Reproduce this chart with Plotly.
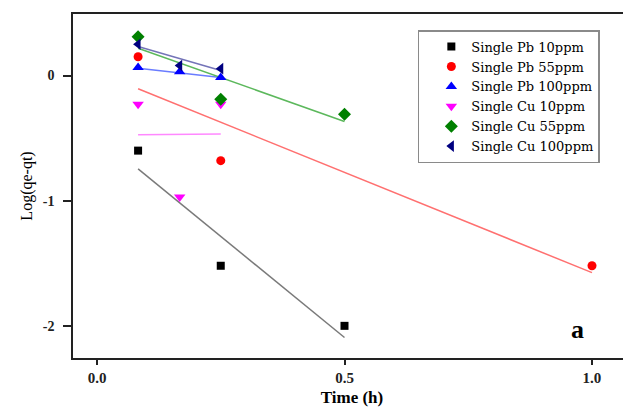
import plotly.graph_objects as go

# ---- data ----
time_pb10 = [0.083, 0.25, 0.5]
pb10 = [-0.60, -1.52, -2.00]
time_pb55 = [0.083, 0.25, 1.0]
pb55 = [0.15, -0.68, -1.52]
time_pb100 = [0.083, 0.167, 0.25]
pb100 = [0.065, 0.03, -0.015]
time_cu10 = [0.083, 0.167, 0.25]
cu10 = [-0.23, -0.97, -0.23]
time_cu55 = [0.083, 0.25, 0.5]
cu55 = [0.31, -0.19, -0.31]
time_cu100 = [0.083, 0.167, 0.25]
cu100 = [0.25, 0.08, 0.055]

# linear fit lines (end points as drawn)
fit_pb10_x = [0.083, 0.5]
fit_pb10_y = [-0.746, -2.093]
fit_pb55_x = [0.083, 1.0]
fit_pb55_y = [-0.106, -1.575]
fit_pb100_x = [0.083, 0.25]
fit_pb100_y = [0.059, -0.016]
fit_cu10_x = [0.083, 0.25]
fit_cu10_y = [-0.473, -0.467]
fit_cu55_x = [0.083, 0.5]
fit_cu55_y = [0.218, -0.367]
fit_cu100_x = [0.083, 0.25]
fit_cu100_y = [0.232, 0.04]

series_names = ["Single Pb 10ppm", "Single Pb 55ppm", "Single Pb 100ppm",
                "Single Cu 10ppm", "Single Cu 55ppm", "Single Cu 100ppm"]

x_ticks = [0.0, 0.5, 1.0]
y_ticks = [-2, -1, 0]
y_tick_text = ["-2", "-1", "0"]

SERIF = "Liberation Serif, Times New Roman, serif"
LEG_FONT = "DejaVu Serif, serif"

fig = go.Figure()

fits = [
    (fit_pb10_x, fit_pb10_y, "#7a7a7a"),
    (fit_pb55_x, fit_pb55_y, "#ff7070"),
    (fit_pb100_x, fit_pb100_y, "#6a7cff"),
    (fit_cu10_x, fit_cu10_y, "#ff88ff"),
    (fit_cu55_x, fit_cu55_y, "#5cb85c"),
    (fit_cu100_x, fit_cu100_y, "#7474b8"),
]
for fx, fy, c in fits:
    fig.add_trace(go.Scatter(x=fx, y=fy, mode="lines", showlegend=False,
                             hoverinfo="skip", line=dict(color=c, width=1.5)))

pts = [
    (time_pb10, pb10, "square", "#000000", 8),
    (time_pb55, pb55, "circle", "#ff0000", 9),
    (time_pb100, pb100, "triangle-up", "#0000ff", 10),
    (time_cu10, cu10, "triangle-down", "#ff00ff", 10),
    (time_cu55, cu55, "diamond", "#008000", 10),
    (time_cu100, cu100, "triangle-left", "#000080", 10),
]
for (px, py, sym, c, s), name in zip(pts, series_names):
    fig.add_trace(go.Scatter(x=px, y=py, mode="markers", name=name,
                             marker=dict(symbol=sym, color=c, size=s,
                                         line=dict(width=0))))

fig.add_annotation(text="<b>a</b>", xref="paper", yref="paper",
                   x=0.905, y=0.083, xanchor="center", yanchor="middle",
                   showarrow=False,
                   font=dict(family=SERIF, size=26, color="#000000"))

fig.update_layout(
    width=623, height=399,
    margin=dict(l=65, r=0, t=6, b=48.5, autoexpand=False),
    paper_bgcolor="white", plot_bgcolor="white",
    font=dict(family=SERIF, color="#000000"),
    showlegend=True,
    legend=dict(x=0.618, y=0.953, xanchor="left", yanchor="top",
                bgcolor="white", bordercolor="#8a8a8a", borderwidth=1.5,
                font=dict(family=LEG_FONT, size=13, color="#000000"),
                indentation=12),
    xaxis=dict(range=[-0.0485, 1.0788], tickvals=x_ticks, automargin=False,
               tickformat=".1f", showgrid=False, zeroline=False,
               showline=True, linecolor="#222222", linewidth=1.5, mirror=True,
               ticks="outside", ticklen=5, tickwidth=1.5, tickcolor="#222222",
               tickfont=dict(family=SERIF, size=15, color="#222222", weight="bold"),
               title=dict(text="<b>Time (h)</b>", standoff=6,
                          font=dict(family=SERIF, size=17, color="#000000"))),
    yaxis=dict(range=[-2.257, 0.4916], tickvals=y_ticks, ticktext=y_tick_text,
               automargin=False,
               showgrid=False, zeroline=False,
               showline=True, linecolor="#222222", linewidth=1.5, mirror=False,
               ticks="outside", ticklen=8, tickwidth=1.5, tickcolor="#222222",
               ticklabelstandoff=6,
               tickfont=dict(family=SERIF, size=14, color="#222222", weight="bold"),
               title=dict(text="Log(qe-qt)", standoff=6,
                          font=dict(family=SERIF, size=16, color="#000000"))),
)

fig.write_html("out.html")
